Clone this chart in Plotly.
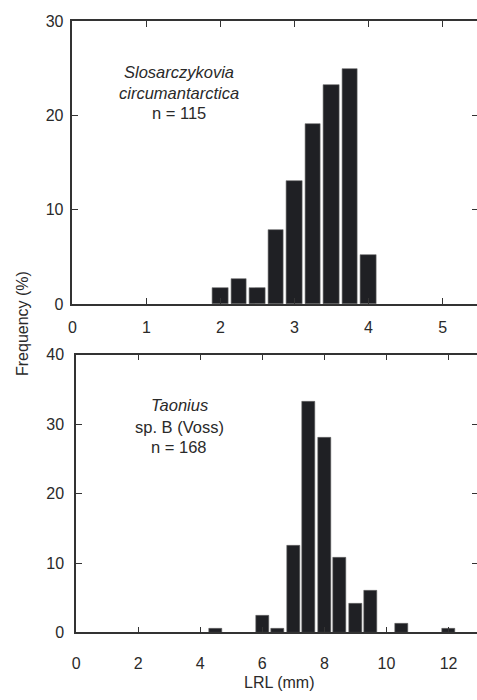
import plotly.graph_objects as go

W, H = 477, 700

# Top panel: Slosarczykovia circumantarctica
top_lrl = [2.0, 2.25, 2.5, 2.75, 3.0, 3.25, 3.5, 3.75, 4.0]
top_freq = [1.7, 2.6, 1.7, 7.8, 13.0, 19.1, 23.2, 24.9, 5.2]
top_label = ["<i>Slosarczykovia</i>", "<i>circumantarctica</i>", "n = 115"]
top_xticks = [0, 1, 2, 3, 4, 5]
top_yticks = [0, 10, 20, 30]

# Bottom panel: Taonius sp. B (Voss)
bot_lrl = [4.5, 6.0, 6.5, 7.0, 7.5, 8.0, 8.5, 9.0, 9.5, 10.5, 12.0]
bot_freq = [0.6, 2.4, 0.6, 12.5, 33.3, 28.0, 10.7, 4.2, 6.0, 1.2, 0.6]
bot_label = ["<i>Taonius</i>", "sp. B (Voss)", "n = 168"]
bot_xticks = [0, 2, 4, 6, 8, 10, 12]
bot_yticks = [0, 10, 20, 30, 40]

y_title = "Frequency (%)"
x_title = "LRL (mm)"

FONT = "Liberation Sans, Arial, Helvetica, sans-serif"
TXT = "#2a2a2a"
LINE = "#333333"
BAR = "#1f2024"
FS = 16

def px_x(p):
    return p / W

def px_y(p):
    return 1 - p / H

fig = go.Figure()

fig.add_trace(go.Bar(x=top_lrl, y=top_freq, width=0.21, xaxis="x", yaxis="y",
                     marker=dict(color=BAR, line=dict(color="#666666", width=0.6)),
                     showlegend=False, hoverinfo="skip"))
fig.add_trace(go.Bar(x=bot_lrl, y=bot_freq, width=0.415, xaxis="x2", yaxis="y2",
                     marker=dict(color=BAR, line=dict(color="#666666", width=0.6)),
                     showlegend=False, hoverinfo="skip"))
# carriers for right-hand tick axes
fig.add_trace(go.Scatter(x=[], y=[], xaxis="x", yaxis="y3", showlegend=False))
fig.add_trace(go.Scatter(x=[], y=[], xaxis="x2", yaxis="y4", showlegend=False))

top_xdom = [px_x(69), 1]
bot_xdom = [px_x(72.7), 1]
top_ydom = [px_y(303.3), px_y(13.3)]
bot_ydom = [px_y(640), px_y(355.3)]

top_xmax = (W - 69) / 74.66
bot_xmax = (W - 72.7) / 31.3

common_x = dict(showgrid=False, zeroline=False, showline=True, linecolor=LINE, linewidth=1.5,
                mirror="ticks", ticks="inside", ticklen=6, tickwidth=1, tickcolor=LINE,
                tickfont=dict(family=FONT, size=FS, color=TXT))
common_y = dict(showgrid=False, zeroline=False, showline=True, linecolor=LINE, linewidth=1.5,
                mirror=False, ticks="inside", ticklen=6, tickwidth=1, tickcolor=LINE,
                tickfont=dict(family=FONT, size=FS, color=TXT))

fig.update_layout(
    width=W, height=H,
    margin=dict(l=0, r=0, t=0, b=0),
    paper_bgcolor="white", plot_bgcolor="white",
    bargap=0,
    xaxis=dict(domain=top_xdom, anchor="y", range=[0, top_xmax],
               tickvals=top_xticks, ticklabelstandoff=8, **common_x),
    yaxis=dict(domain=top_ydom, anchor="x", range=[0, 30],
               tickvals=top_yticks, ticklabelstandoff=4, **common_y),
    xaxis2=dict(domain=bot_xdom, anchor="y2", range=[0, bot_xmax],
                tickvals=bot_xticks, ticklabelstandoff=16, **common_x),
    yaxis2=dict(domain=bot_ydom, anchor="x2", range=[0, 40],
                tickvals=bot_yticks, ticklabelstandoff=7, **common_y),
    yaxis3=dict(overlaying="y", side="right", anchor="x", range=[0, 30],
                tickvals=top_yticks, showticklabels=False, showline=False,
                showgrid=False, zeroline=False, ticks="inside", ticklen=5,
                tickwidth=1, tickcolor=LINE),
    yaxis4=dict(overlaying="y2", side="right", anchor="x2", range=[0, 40],
                tickvals=bot_yticks, showticklabels=False, showline=False,
                showgrid=False, zeroline=False, ticks="inside", ticklen=5,
                tickwidth=1, tickcolor=LINE),
)

# in-panel labels (data coordinates)
top_lab_x = 1.433
top_lab_y = [24.55, 22.4, 20.2]
for t, yy in zip(top_label, top_lab_y):
    fig.add_annotation(x=top_lab_x, y=yy, xref="x", yref="y", text=t, showarrow=False,
                       font=dict(family=FONT, size=FS + 0.5, color=TXT),
                       xanchor="center", yanchor="middle")

bot_lab_x = 3.32
bot_lab_y = [32.74, 29.6, 26.7]
for t, yy in zip(bot_label, bot_lab_y):
    fig.add_annotation(x=bot_lab_x, y=yy, xref="x2", yref="y2", text=t, showarrow=False,
                       font=dict(family=FONT, size=FS + 0.5, color=TXT),
                       xanchor="center", yanchor="middle")

# axis titles
fig.add_annotation(x=px_x(18), y=px_y(323), xref="paper", yref="paper", text=y_title,
                   textangle=-90, showarrow=False, xanchor="center", yanchor="middle",
                   font=dict(family=FONT, size=FS, color=TXT))
fig.add_annotation(x=px_x(278), y=px_y(691), xref="paper", yref="paper", text=x_title,
                   showarrow=False, xanchor="center", yanchor="middle",
                   font=dict(family=FONT, size=FS, color=TXT))

fig.write_html("out.html")
